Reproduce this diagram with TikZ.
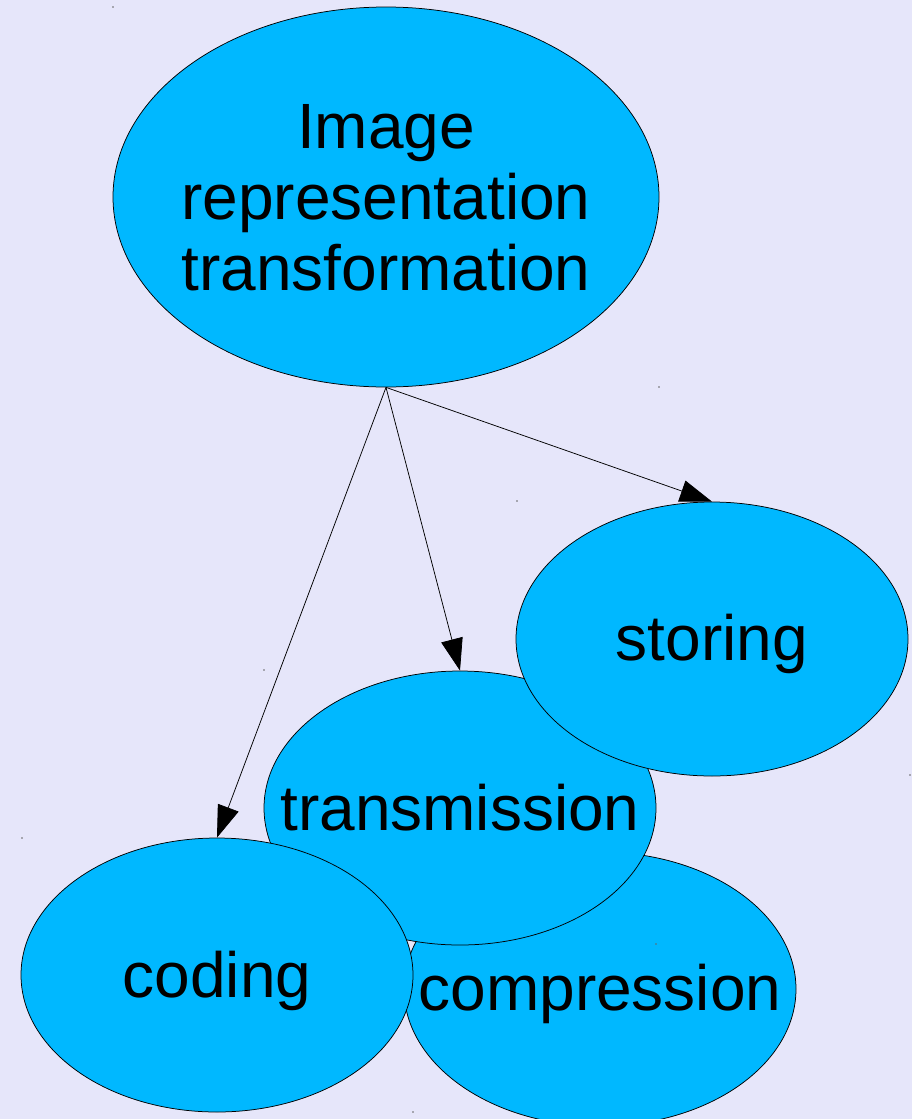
\documentclass[tikz,border=0pt]{standalone}
\usepackage{fontspec}
\setmainfont{Liberation Sans}
\usetikzlibrary{arrows.meta,shapes.geometric}
\definecolor{bgcol}{RGB}{230,230,250}
\definecolor{bubblecol}{RGB}{0,184,255}
\begin{document}
\begin{tikzpicture}[x=1pt,y=-1pt,
  bubble/.style={ellipse, draw=black, line width=0.75pt, fill=bubblecol, inner sep=0pt},
  small/.style={bubble, minimum width=392pt, minimum height=274pt},
  word/.style={font=\fontsize{64}{71}\selectfont, inner sep=0pt, text=black},
  arr/.style={line width=0.75pt, -{Triangle[length=32pt,width=22pt]}},
  speck/.style={circle, fill=black!60, inner sep=0pt, minimum size=1.6pt}]
\useasboundingbox (0,0) rectangle (912,1119);
\clip (0,0) rectangle (912,1119);
\fill[bgcol] (0,0) rectangle (912,1119);

% bubbles, back to front
\node[small] (comp) at (600,989) {};
\node[word, anchor=base] (comp-t) at (600,1010) {compression};

\node[small] (trans) at (460,808) {};
\node[word, anchor=base] (trans-t) at (460,830) {transmission};

\node[small] (cod) at (217,975) {};
\node[word, anchor=base] (cod-t) at (217,997) {coding};

\node[small] (stor) at (712,639) {};
\node[word, anchor=base] (stor-t) at (712,660) {storing};

\node[bubble, minimum width=546pt, minimum height=380pt] (img) at (386,197) {};
\node[word, align=center] (img-t) at (386,198) {Image\\representation\\transformation};

% connectors
\draw[arr] (img.south) -- (stor.north);
\draw[arr] (img.south) -- (trans.north);
\draw[arr] (img.south) -- (cod.north);

% bounding-box corner marks
\node[speck] (m1) at (113,7) {};
\node[speck] (m2) at (659,387) {};
\node[speck] (m3) at (517,501) {};
\node[speck] (m4) at (910,775) {};
\node[speck] (m5) at (264,670) {};
\node[speck] (m6) at (656,944) {};
\node[speck] (m7) at (22,838) {};
\node[speck] (m8) at (413,1112) {};
\end{tikzpicture}
\end{document}
